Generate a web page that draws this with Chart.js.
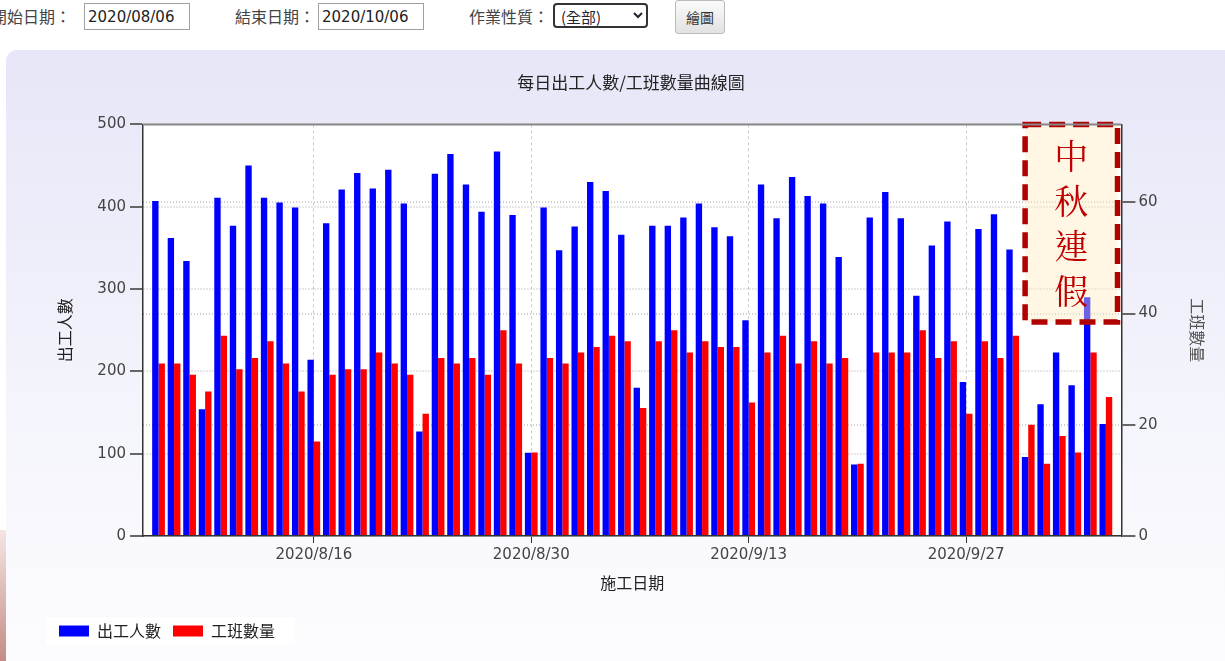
<!DOCTYPE html>
<html>
<head>
<meta charset="utf-8">
<script src="https://cdn.jsdelivr.net/npm/chart.js@4.4.0/dist/chart.umd.min.js"></script>
<style>
html, body { margin: 0; padding: 0; background: #fff; width: 1225px; height: 661px; overflow: hidden; font-family: 'Noto Sans CJK TC', sans-serif; }
.lbl { position: absolute; top: 6px; font-size: 16px; line-height: 20px; color: #444; white-space: nowrap; }
.inp { position: absolute; top: 3px; width: 106px; height: 27px; box-sizing: border-box; border: 1px solid #a0a0a0; font: 15px 'DejaVu Sans', sans-serif; color: #222; padding: 0 0 0 3px; background: #fff; }
#kind { position: absolute; left: 553px; top: 3px; width: 95px; height: 25px; box-sizing: border-box; border: 2px solid #333; border-radius: 4px; font: 15px 'Noto Sans CJK TC', sans-serif; color: #223; background: #fff; padding: 0 2px; }
#draw { position: absolute; left: 675px; top: 0px; width: 50px; height: 34px; box-sizing: border-box; border: 1px solid #bbb; border-radius: 3px; background: linear-gradient(#fafafa, #e2e2e2); font: 14px 'Noto Sans CJK TC', sans-serif; color: #333; padding: 0; }
#panel { position: absolute; left: 6px; top: 50px; width: 1240px; height: 640px; border-radius: 11px 0 0 0; background: linear-gradient(#e6e6f8, #f4f4fc 55%, #fdfdff); }
#strip { position: absolute; left: 0; top: 530px; width: 6px; height: 131px; background: linear-gradient(#f4e6e4, #c48c84); }
#wrap { position: absolute; left: 7px; top: 45px; width: 1218px; height: 616px; }
</style>
</head>
<body>
<div class="lbl" style="left:-9px">開始日期：</div>
<input class="inp" style="left:84px" value="2020/08/06">
<div class="lbl" style="left:235px">結束日期：</div>
<input class="inp" style="left:318px" value="2020/10/06">
<div class="lbl" style="left:469px">作業性質：</div>
<select id="kind"><option>(全部)</option></select>
<button id="draw">繪圖</button>
<div id="strip"></div>
<div id="panel"></div>
<div id="wrap"><canvas id="myChart" width="1218" height="616"></canvas></div>
<script>
let dates = [
  '2020/8/6','2020/8/7','2020/8/8','2020/8/9','2020/8/10','2020/8/11','2020/8/12','2020/8/13','2020/8/14','2020/8/15',
  '2020/8/16','2020/8/17','2020/8/18','2020/8/19','2020/8/20','2020/8/21','2020/8/22','2020/8/23','2020/8/24','2020/8/25',
  '2020/8/26','2020/8/27','2020/8/28','2020/8/29','2020/8/30','2020/8/31','2020/9/1','2020/9/2','2020/9/3','2020/9/4',
  '2020/9/5','2020/9/6','2020/9/7','2020/9/8','2020/9/9','2020/9/10','2020/9/11','2020/9/12','2020/9/13','2020/9/14',
  '2020/9/15','2020/9/16','2020/9/17','2020/9/18','2020/9/19','2020/9/20','2020/9/21','2020/9/22','2020/9/23','2020/9/24',
  '2020/9/25','2020/9/26','2020/9/27','2020/9/28','2020/9/29','2020/9/30','2020/10/1','2020/10/2','2020/10/3','2020/10/4',
  '2020/10/5','2020/10/6'
];
let workers = [
  407, 362, 334, 154, 411, 377, 450, 411, 405, 399,
  214, 380, 421, 441, 422, 445, 404, 127, 440, 464,
  427, 394, 467, 390, 101, 399, 347, 376, 430, 419,
  366, 180, 377, 377, 387, 404, 375, 364, 262, 427,
  386, 436, 413, 404, 339, 87, 387, 418, 386, 292,
  353, 382, 187, 373, 391, 348, 96, 160, 223, 183,
  290, 136
];
let crews = [
  31, 31, 29, 26, 36, 30, 32, 35, 31, 26,
  17, 29, 30, 30, 33, 31, 29, 22, 32, 31,
  32, 29, 37, 31, 15, 32, 31, 33, 34, 36,
  35, 23, 35, 37, 33, 35, 34, 34, 24, 33,
  36, 31, 35, 31, 32, 13, 33, 33, 33, 37,
  32, 35, 22, 35, 32, 36, 20, 13, 18, 15,
  33, 25
];
let tickDates = ['2020/8/16', '2020/8/30', '2020/9/13', '2020/9/27'];
let crewTicks = [0, 20, 40, 60];
let holidayChars = ['中', '秋', '連', '假'];

let tickFont = { family: "'DejaVu Sans', sans-serif", size: 15 };
let cjkFont = { family: "'Noto Sans CJK TC', sans-serif", size: 16 };

// white plot area + legend backdrop
let backdrop = {
  id: 'backdrop',
  beforeDraw(chart) {
    let c = chart.ctx, a = chart.chartArea;
    c.save();
    c.fillStyle = '#fff';
    c.fillRect(a.left, a.top, a.right - a.left, a.bottom - a.top);
    let hb = chart.legend.legendHitBoxes;
    if (hb && hb.length) {
      let last = hb[hb.length - 1];
      let cy = hb[0].top + hb[0].height / 2;
      c.fillRect(hb[0].left - 13, cy - 14, last.left + last.width + 20 - (hb[0].left - 13), 28);
    }
    c.restore();
  },
  afterDraw(chart) {
    let c = chart.ctx, a = chart.chartArea;
    c.save();
    c.strokeStyle = '#888';
    c.lineWidth = 2;
    c.beginPath();
    c.moveTo(a.left, a.top);
    c.lineTo(a.right, a.top);
    c.stroke();
    c.restore();
  }
};

// 中秋連假 box
let holiday = {
  id: 'holiday',
  afterDatasetsDraw(chart) {
    let c = chart.ctx, xs = chart.scales.x, ys = chart.scales.y;
    let x1 = xs.getPixelForValue(55.8), x2 = xs.getPixelForValue(61.75);
    let y1 = ys.getPixelForValue(500), y2 = ys.getPixelForValue(260);
    c.save();
    c.fillStyle = 'rgba(255,234,190,0.42)';
    c.fillRect(x1, y1, x2 - x1, y2 - y1);
    c.setLineDash([16, 8]);
    c.lineWidth = 5.5;
    c.strokeStyle = '#b00000';
    c.strokeRect(x1, y1, x2 - x1, y2 - y1);
    c.setLineDash([]);
    c.fillStyle = '#c00000';
    c.font = "34px 'Noto Serif CJK TC', 'Noto Sans CJK TC', serif";
    c.textAlign = 'center';
    c.textBaseline = 'middle';
    let cx = (x1 + x2) / 2, cy = (y1 + y2) / 2;
    holidayChars.forEach((ch, i) => {
      c.fillText(ch, cx, cy + (i - 1.5) * 45);
    });
    c.restore();
  }
};

let ctx = document.getElementById('myChart').getContext('2d');
let myChart = new Chart(ctx, {
  type: 'bar',
  data: {
    datasets: [{
      label: '出工人數',
      data: workers.map((v, i) => ({ x: i, y: v })),
      backgroundColor: '#0000ff',
      yAxisID: 'y'
    }, {
      label: '工班數量',
      data: crews.map((v, i) => ({ x: i, y: v })),
      backgroundColor: '#ff0000',
      yAxisID: 'y1'
    }]
  },
  options: {
    responsive: false,
    animation: false,
    categoryPercentage: 0.82,
    barPercentage: 1,
    layout: { padding: { left: 40, right: 10, top: 0, bottom: 12 } },
    plugins: {
      title: {
        display: true,
        text: '每日出工人數/工班數量曲線圖',
        color: '#222',
        font: { family: cjkFont.family, size: 17, weight: 'normal' },
        padding: { top: 27, bottom: 32 }
      },
      legend: {
        position: 'bottom',
        align: 'start',
        labels: { boxWidth: 30, boxHeight: 11, color: '#222', font: cjkFont, padding: 12 }
      },
      tooltip: { enabled: false }
    },
    scales: {
      x: {
        type: 'linear',
        offset: false,
        min: -1,
        max: 62,
        afterBuildTicks: (s) => { s.ticks = tickDates.map(d => ({ value: dates.indexOf(d) })); },
        afterFit: (s) => { s.height = 75; },
        ticks: { font: tickFont, color: '#444', padding: 3, maxRotation: 0, callback: (v) => dates[v] },
        grid: { offset: false, color: '#c8c8c8', lineWidth: 1, tickColor: '#333', tickLength: 7 },
        border: { color: '#333', width: 1.5, dash: [3, 3] },
        title: { display: true, text: '施工日期', color: '#222', font: cjkFont, padding: { top: 0, bottom: 18 } }
      },
      y: {
        position: 'left',
        min: 0,
        max: 500,
        afterFit: (s) => { s.width = 96; },
        ticks: { stepSize: 100, font: tickFont, color: '#444', padding: 4 },
        grid: { color: '#cfcfcf', lineWidth: 2, tickColor: '#666', tickLength: 13, tickBorderDash: [] },
        border: { color: '#333', width: 1.5, dash: [1, 2] },
        title: { display: true, text: '出工人數', color: '#222', font: cjkFont, padding: { top: 8, bottom: 0 } }
      },
      y1: {
        position: 'right',
        min: 0,
        max: 74,
        afterBuildTicks: (s) => { s.ticks = crewTicks.map(v => ({ value: v })); },
        afterFit: (s) => { s.width = 93.6; },
        ticks: { font: tickFont, color: '#444', padding: 3 },
        grid: { color: '#cfcfcf', lineWidth: 2, tickColor: '#666', tickLength: 14, tickBorderDash: [] },
        border: { color: '#333', width: 1.5, dash: [1, 2] },
        title: { display: true, text: '工班數量', color: '#555', font: cjkFont, padding: { top: 8, bottom: 0 } }
      }
    }
  },
  plugins: [backdrop, holiday]
});
</script>
</body>
</html>
